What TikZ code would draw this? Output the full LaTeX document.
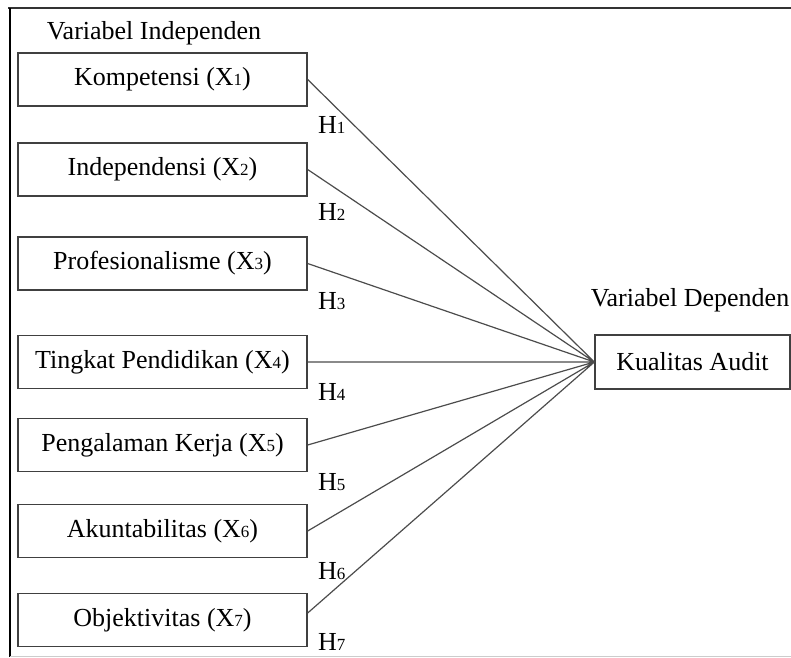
\documentclass[tikz,border=0pt]{standalone}
\usepackage{fontspec}
\setmainfont{Liberation Serif}
\usepackage{tikz}
\newcommand{\sm}[1]{{\fontsize{17}{17}\selectfont #1}}

\begin{document}
\begin{tikzpicture}[x=1pt,y=-1pt,
  varbox/.style={draw=black!75,line width=1.3pt,minimum width=289pt,minimum height=53pt,inner sep=0pt,font=\fontsize{26}{28}\selectfont},
  hlabel/.style={anchor=west,inner sep=0pt,font=\fontsize{26}{28}\selectfont},
  link/.style={draw=black!70,line width=1.2pt}]
\useasboundingbox (0,0) rectangle (791,657);
% frame
\draw[black!80,line width=2.5pt] (8,8) -- (791,8);
\draw[black,line width=2pt] (10,8) -- (10,657);
\draw[black!20,line width=1pt] (10,656) -- (791,656);
% variables
\node[font=\fontsize{26}{28}\selectfont] (indep) at (154,33) {Variabel Independen};
\node[varbox] (x1) at (162.5,79.5) {Kompetensi (X\sm{1})};
\node[varbox] (x2) at (162.5,169.5) {Independensi (X\sm{2})};
\node[varbox] (x3) at (162.5,263.5) {Profesionalisme (X\sm{3})};
\node[varbox] (x4) at (162.5,362) {Tingkat Pendidikan (X\sm{4})};
\node[varbox] (x5) at (162.5,445) {Pengalaman Kerja (X\sm{5})};
\node[varbox] (x6) at (162.5,531) {Akuntabilitas (X\sm{6})};
\node[varbox] (x7) at (162.5,620) {Objektivitas (X\sm{7})};
\node[font=\fontsize{26}{28}\selectfont] (dep) at (690,300) {Variabel Dependen};
\node[varbox,minimum width=195pt,minimum height=54pt] (y) at (692.5,362) {Kualitas Audit};
% hypotheses
\node[hlabel] (h1) at (318,125) {H\sm{1}};
\node[hlabel] (h2) at (318,212) {H\sm{2}};
\node[hlabel] (h3) at (318,301) {H\sm{3}};
\node[hlabel] (h4) at (318,392) {H\sm{4}};
\node[hlabel] (h5) at (318,482) {H\sm{5}};
\node[hlabel] (h6) at (318,571) {H\sm{6}};
\node[hlabel] (h7) at (318,642) {H\sm{7}};
% links
\draw[link]
(x1.east) -- (y.west)
(x2.east) -- (y.west)
(x3.east) -- (y.west)
(x4.east) -- (y.west)
(x5.east) -- (y.west)
(x6.east) -- (y.west)
([yshift=7pt]x7.east) -- (y.west);
\end{tikzpicture}
\end{document}
